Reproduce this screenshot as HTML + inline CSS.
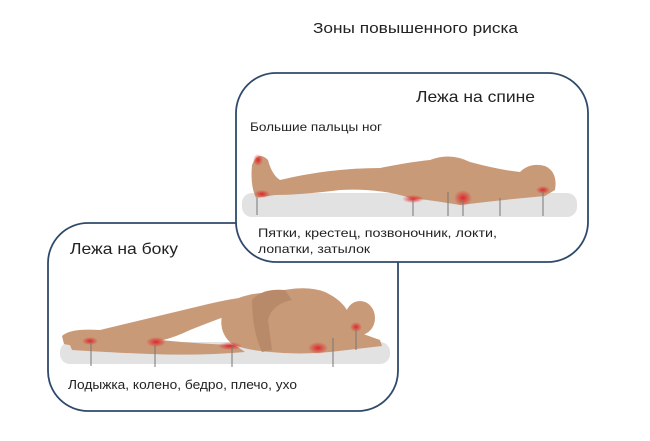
<!DOCTYPE html>
<html><head><meta charset="utf-8"><style>
body{margin:0;background:#fff;}
svg text{font-family:"Liberation Sans","DejaVu Sans",sans-serif;fill:#222;}
</style></head><body>
<svg width="650" height="436" viewBox="0 0 650 436" xmlns="http://www.w3.org/2000/svg">
<defs>
<radialGradient id="red" cx="50%" cy="50%" r="50%"><stop offset="0" stop-color="#e0262a"/><stop offset="1" stop-color="#e0262a" stop-opacity="0"/></radialGradient>
</defs>
<text x="313" y="33" font-size="15" textLength="205" lengthAdjust="spacingAndGlyphs">Зоны повышенного риска</text>
<!-- box 2 (side) -->
<rect x="48" y="223" width="350" height="188" rx="40" fill="#fff" stroke="#2e4a6b" stroke-width="1.8"/>
<text x="70" y="254" font-size="16" textLength="108" lengthAdjust="spacingAndGlyphs">Лежа на боку</text>
<rect x="60" y="342" width="330" height="22" rx="10" fill="#e2e2e2"/>
<g fill="#c99a78">
<path d="M62 336 Q70 328 100 330 Q150 318 200 306 Q240 296 262 296 L262 304 Q230 314 190 330 Q160 345 120 346 Q80 348 64 344Z"/>
<path d="M70 345 Q110 336 160 340 Q200 344 235 345 L245 352 Q200 356 150 354 Q100 352 72 350Z"/>
<path d="M225 305 Q245 292 270 293 Q305 284 325 292 Q342 300 348 312 L352 330 L380 340 L382 346 L330 352 Q300 355 270 352 Q245 350 232 344 Q215 330 225 305Z"/>
<ellipse cx="360" cy="318" rx="15" ry="17"/>
<path d="M252 300 Q262 288 285 290 L292 300 Q272 304 268 320 L272 350 L262 352 Q252 330 252 300Z" fill="#b98a6a"/>
</g>
<ellipse cx="90" cy="341" rx="8" ry="4" fill="url(#red)"/>
<ellipse cx="156" cy="342" rx="10" ry="5" fill="url(#red)"/>
<ellipse cx="230" cy="346" rx="12" ry="4" fill="url(#red)"/>
<ellipse cx="318" cy="348" rx="10" ry="6" fill="url(#red)"/>
<ellipse cx="356" cy="327" rx="6" ry="5" fill="url(#red)"/>
<g stroke="#777" stroke-width="1"><line x1="91" y1="342" x2="91" y2="366"/><line x1="155" y1="345" x2="155" y2="367"/><line x1="232" y1="346" x2="232" y2="367"/><line x1="333" y1="338" x2="333" y2="367"/><line x1="356" y1="330" x2="356" y2="350"/></g>
<text x="68" y="389" font-size="13" textLength="229" lengthAdjust="spacingAndGlyphs">Лодыжка, колено, бедро, плечо, ухо</text>
<!-- box 1 (back) -->
<rect x="236" y="73" width="352" height="189" rx="40" fill="#fff" stroke="#2e4a6b" stroke-width="1.8"/>
<text x="416" y="102" font-size="16" textLength="119" lengthAdjust="spacingAndGlyphs">Лежа на спине</text>
<text x="250" y="131" font-size="12" textLength="132" lengthAdjust="spacingAndGlyphs">Большие пальцы ног</text>
<rect x="242" y="193" width="335" height="24" rx="10" fill="#e2e2e2"/>
<g fill="#c99a78">
<path d="M252 165 Q258 150 268 160 Q272 175 280 180 Q330 168 380 168 Q410 162 430 160 Q450 152 470 162 Q500 170 520 172 Q530 162 545 166 Q558 172 555 190 L545 196 Q500 200 460 205 Q430 200 410 198 Q380 188 340 190 Q300 195 275 195 L256 198 Q250 185 252 165Z"/>
</g>
<ellipse cx="258" cy="160" rx="5" ry="6" fill="url(#red)"/>
<ellipse cx="262" cy="194" rx="8" ry="4" fill="url(#red)"/>
<ellipse cx="413" cy="199" rx="11" ry="4" fill="url(#red)"/>
<ellipse cx="463" cy="198" rx="9" ry="8" fill="url(#red)"/>
<ellipse cx="543" cy="190" rx="7" ry="4" fill="url(#red)"/>
<g stroke="#777" stroke-width="1"><line x1="257" y1="198" x2="257" y2="215"/><line x1="413" y1="200" x2="413" y2="216"/><line x1="448" y1="192" x2="448" y2="216"/><line x1="463" y1="200" x2="463" y2="216"/><line x1="500" y1="198" x2="500" y2="216"/><line x1="543" y1="192" x2="543" y2="216"/></g>
<text x="258" y="237" font-size="12" textLength="239" lengthAdjust="spacingAndGlyphs">Пятки, крестец, позвоночник,  локти,</text>
<text x="258" y="253" font-size="12" textLength="112" lengthAdjust="spacingAndGlyphs">лопатки, затылок</text>
</svg>
</body></html>
